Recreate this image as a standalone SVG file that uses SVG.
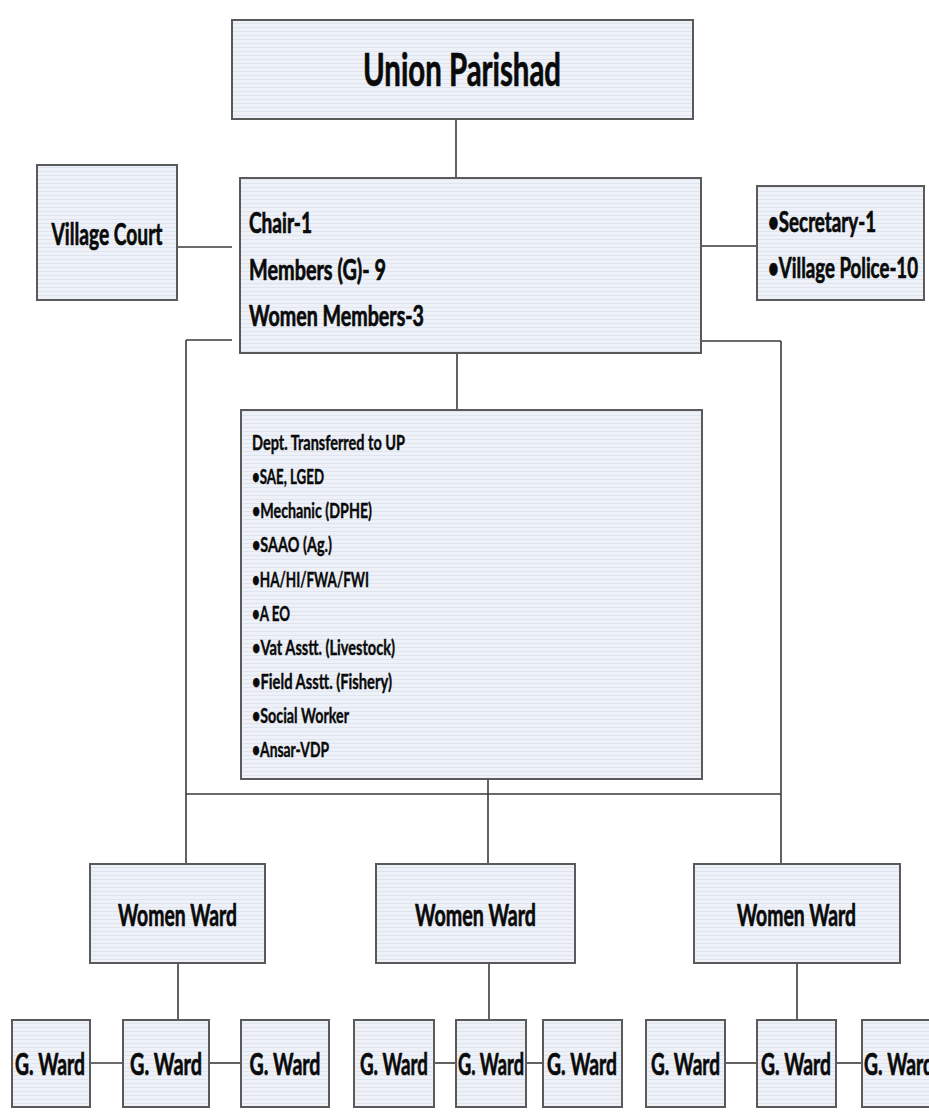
<svg xmlns="http://www.w3.org/2000/svg" width="929" height="1117" viewBox="0 0 929 1117">
<defs>
<pattern id="stripes" patternUnits="userSpaceOnUse" width="4" height="4">
<rect width="4" height="4" fill="#eef2f8"/>
<rect y="3" width="4" height="1" fill="#dfe5ee"/>
</pattern>
<style>
.box{fill:url(#stripes);stroke:#5a5a5a;stroke-width:2}
.t{font-family:"Lato","Liberation Sans",sans-serif;font-weight:bold;fill:#0a0a0a;stroke:#0a0a0a;stroke-width:0.7}
.s{stroke-width:0.4}
.c{text-anchor:middle}
.conn line{stroke:#3a3a3a;stroke-width:1.6}
</style>
</defs>
<rect width="929" height="1117" fill="#ffffff"/>

<g id="connectors" class="conn">
<line x1="456" y1="119" x2="456" y2="186"/>
<line x1="177" y1="247" x2="232" y2="247"/>
<line x1="701" y1="246" x2="757" y2="246"/>
<line x1="457" y1="353" x2="457" y2="410"/>
<line x1="186" y1="340" x2="232" y2="340"/>
<line x1="701" y1="341" x2="781" y2="341"/>
<line x1="186" y1="340" x2="186" y2="864"/>
<line x1="781" y1="341" x2="781" y2="892"/>
<line x1="186" y1="794" x2="781" y2="794"/>
<line x1="488" y1="779" x2="488" y2="864"/>
<line x1="178" y1="963" x2="178" y2="1020"/>
<line x1="489" y1="963" x2="489" y2="1034"/>
<line x1="797" y1="963" x2="797" y2="1020"/>
<line x1="90" y1="1063" x2="123" y2="1063"/>
<line x1="209" y1="1063" x2="241" y2="1063"/>
<line x1="434" y1="1063" x2="456" y2="1063"/>
<line x1="526" y1="1063" x2="543" y2="1063"/>
<line x1="725" y1="1063" x2="757" y2="1063"/>
<line x1="836" y1="1063" x2="862" y2="1063"/>
</g>

<g id="union-parishad">
<rect class="box" x="232" y="20" width="461" height="99"/>
<text class="t c" x="462" y="86" font-size="46" textLength="198" lengthAdjust="spacingAndGlyphs">Union Parishad</text>
</g>

<g id="village-court">
<rect class="box" x="37" y="165" width="140" height="135"/>
<text class="t c" x="107" y="245" font-size="31" textLength="111" lengthAdjust="spacingAndGlyphs">Village Court</text>
</g>

<g id="council">
<rect class="box" x="240" y="178" width="461" height="175"/>
<text class="t" x="249" y="233" font-size="28" textLength="63" lengthAdjust="spacingAndGlyphs">Chair-1</text>
<text class="t" x="249" y="280" font-size="28" textLength="137" lengthAdjust="spacingAndGlyphs">Members (G)- 9</text>
<text class="t" x="249" y="326" font-size="28" textLength="175" lengthAdjust="spacingAndGlyphs">Women Members-3</text>
</g>

<g id="secretary">
<rect class="box" x="757" y="186" width="167" height="114"/>
<text class="t" x="768" y="232" font-size="29" textLength="108" lengthAdjust="spacingAndGlyphs">•Secretary-1</text>
<text class="t" x="768" y="278" font-size="29" textLength="150" lengthAdjust="spacingAndGlyphs">•Village Police-10</text>
</g>

<g id="departments">
<rect class="box" x="241" y="410" width="461" height="369"/>
<text class="t s" x="252" y="450" font-size="20" textLength="153" lengthAdjust="spacingAndGlyphs">Dept. Transferred to UP</text>
<text class="t s" x="252" y="484" font-size="20" textLength="72" lengthAdjust="spacingAndGlyphs">•SAE, LGED</text>
<text class="t s" x="252" y="518" font-size="20" textLength="120" lengthAdjust="spacingAndGlyphs">•Mechanic (DPHE)</text>
<text class="t s" x="252" y="552" font-size="20" textLength="80" lengthAdjust="spacingAndGlyphs">•SAAO (Ag.)</text>
<text class="t s" x="252" y="587" font-size="20" textLength="117" lengthAdjust="spacingAndGlyphs">•HA/HI/FWA/FWI</text>
<text class="t s" x="252" y="621" font-size="20" textLength="38" lengthAdjust="spacingAndGlyphs">•A EO</text>
<text class="t s" x="252" y="655" font-size="20" textLength="143" lengthAdjust="spacingAndGlyphs">•Vat Asstt. (Livestock)</text>
<text class="t s" x="252" y="689" font-size="20" textLength="140" lengthAdjust="spacingAndGlyphs">•Field Asstt. (Fishery)</text>
<text class="t s" x="252" y="723" font-size="20" textLength="97" lengthAdjust="spacingAndGlyphs">•Social Worker</text>
<text class="t s" x="252" y="757" font-size="20" textLength="77" lengthAdjust="spacingAndGlyphs">•Ansar-VDP</text>
</g>

<g id="women-ward-1">
<rect class="box" x="90" y="864" width="175" height="99"/>
<text class="t c" x="177.5" y="926" font-size="31" textLength="119" lengthAdjust="spacingAndGlyphs">Women Ward</text>
</g>
<g id="women-ward-2">
<rect class="box" x="376" y="864" width="199" height="99"/>
<text class="t c" x="475.5" y="926" font-size="31" textLength="121" lengthAdjust="spacingAndGlyphs">Women Ward</text>
</g>
<g id="women-ward-3">
<rect class="box" x="694" y="864" width="206" height="99"/>
<text class="t c" x="796.5" y="926" font-size="31" textLength="119" lengthAdjust="spacingAndGlyphs">Women Ward</text>
</g>

<g id="g-ward-1">
<rect class="box" x="12" y="1020" width="78" height="87"/>
<text class="t c" x="50" y="1075" font-size="31" textLength="70" lengthAdjust="spacingAndGlyphs">G. Ward</text>
</g>
<g id="g-ward-2">
<rect class="box" x="123" y="1020" width="86" height="87"/>
<text class="t c" x="166" y="1075" font-size="31" textLength="72" lengthAdjust="spacingAndGlyphs">G. Ward</text>
</g>
<g id="g-ward-3">
<rect class="box" x="241" y="1020" width="88" height="87"/>
<text class="t c" x="285" y="1075" font-size="31" textLength="71" lengthAdjust="spacingAndGlyphs">G. Ward</text>
</g>
<g id="g-ward-4">
<rect class="box" x="354" y="1020" width="80" height="87"/>
<text class="t c" x="394" y="1075" font-size="31" textLength="68" lengthAdjust="spacingAndGlyphs">G. Ward</text>
</g>
<g id="g-ward-5">
<rect class="box" x="456" y="1020" width="70" height="87"/>
<text class="t c" x="491" y="1075" font-size="31" textLength="66" lengthAdjust="spacingAndGlyphs">G. Ward</text>
</g>
<g id="g-ward-6">
<rect class="box" x="543" y="1020" width="79" height="87"/>
<text class="t c" x="582" y="1075" font-size="31" textLength="70" lengthAdjust="spacingAndGlyphs">G. Ward</text>
</g>
<g id="g-ward-7">
<rect class="box" x="646" y="1020" width="79" height="87"/>
<text class="t c" x="685.5" y="1075" font-size="31" textLength="69" lengthAdjust="spacingAndGlyphs">G. Ward</text>
</g>
<g id="g-ward-8">
<rect class="box" x="757" y="1020" width="79" height="87"/>
<text class="t c" x="796" y="1075" font-size="31" textLength="70" lengthAdjust="spacingAndGlyphs">G. Ward</text>
</g>
<g id="g-ward-9">
<rect class="box" x="862" y="1020" width="80" height="87"/>
<text class="t" x="864" y="1075" font-size="31" textLength="70" lengthAdjust="spacingAndGlyphs">G. Ward</text>
</g>
</svg>
